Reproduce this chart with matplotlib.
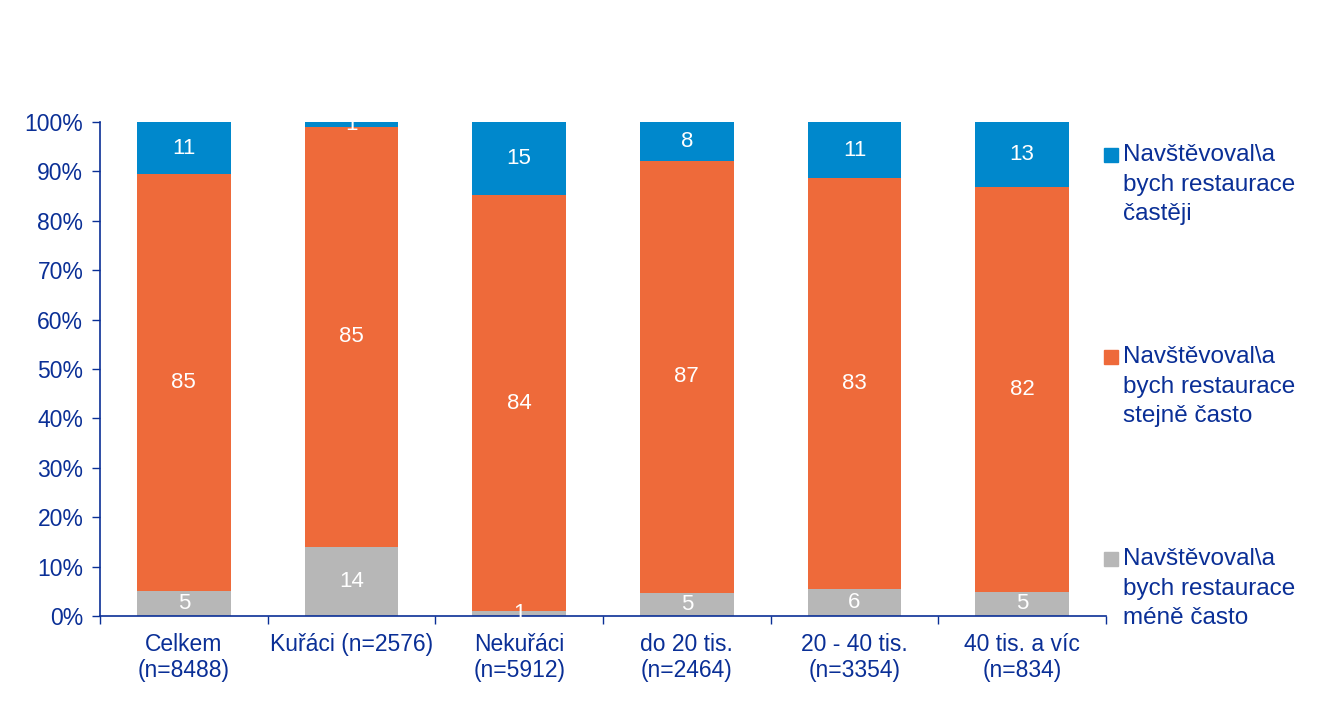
import matplotlib
matplotlib.use('Agg')
import matplotlib.pyplot as plt
from matplotlib.patches import Rectangle
import numpy as np

categories = ['Celkem\n(n=8488)', 'Kuřáci (n=2576)', 'Nekuřáci\n(n=5912)',
              'do 20 tis.\n(n=2464)', '20 - 40 tis.\n(n=3354)', '40 tis. a víc\n(n=834)']
mene_casto = [5.0, 14.0, 1.0, 4.7, 5.5, 4.9]
stejne_casto = [84.6, 85.0, 84.2, 87.4, 83.0, 81.9]
casteji = [10.6, 1.0, 14.8, 7.9, 11.4, 13.2]
series_names = ['Navštěvoval\\a\nbych restaurace\nméně často',
                'Navštěvoval\\a\nbych restaurace\nstejně často',
                'Navštěvoval\\a\nbych restaurace\nčastěji']
colors = ['#B7B7B7', '#EE6A3A', '#0088CC']

navy = '#0A2F96'
plt.rcParams['font.family'] = ['Liberation Sans', 'DejaVu Sans']

fig = plt.figure(figsize=(13.39, 7.10), dpi=100)
ax = fig.add_axes([100/1339, 1-616/710, 1006/1339, 494/710])

data = np.array([mene_casto, stejne_casto, casteji])
shares = data / data.sum(axis=0) * 100
x = np.arange(len(categories))
bottom = np.zeros(len(categories))
for i in range(3):
    ax.bar(x, shares[i], 0.56, bottom=bottom, color=colors[i], zorder=2)
    for xi, b, h, v in zip(x, bottom, shares[i], data[i]):
        ax.text(xi, b + h / 2, '%d' % round(v), ha='center', va='center',
                color='white', fontsize=16, zorder=3)
    bottom += shares[i]

ax.set_xlim(-0.5, len(categories) - 0.5)
ax.set_ylim(0, 100)
ax.set_yticks(np.arange(0, 101, 10))
ax.set_yticklabels(['%d%%' % v for v in range(0, 101, 10)])
ax.set_xticks(np.arange(-0.5, len(categories)))
ax.set_xticklabels([])
ax.set_xticks(x, minor=True)
ax.set_xticklabels(categories, minor=True)
ax.tick_params(axis='x', which='minor', length=0, pad=12, labelsize=16.5, labelcolor=navy)
ax.tick_params(axis='x', which='major', length=6, color=navy, width=1)
ax.tick_params(axis='y', length=6, color=navy, width=1, labelsize=16.5, labelcolor=navy, pad=6)
for side in ['top', 'right']:
    ax.spines[side].set_visible(False)
for side in ['left', 'bottom']:
    ax.spines[side].set_color(navy)
    ax.spines[side].set_linewidth(1.2)

# legend drawn by hand so that each square sits next to the first line
legend_tops = [147, 349, 551]
for top, i in zip(legend_tops, [2, 1, 0]):
    fig.patches.append(Rectangle((1104/1339, 1 - (top + 15)/710), 14/1339, 14/710,
                                 transform=fig.transFigure, color=colors[i]))
    fig.text(1123/1339, 1 - (top - 3)/710, series_names[i], ha='left', va='top',
             fontsize=17.5, color=navy, linespacing=1.45)

fig.savefig('out.png', dpi=100)
